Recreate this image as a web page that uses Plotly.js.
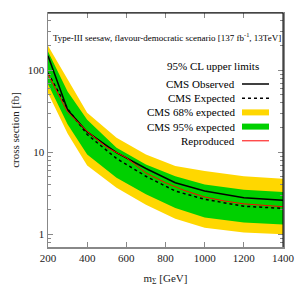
<!DOCTYPE html>
<html>
<head>
<meta charset="utf-8">
<script src="https://cdn.plot.ly/plotly-3.0.1.min.js"></script>
<style>html,body{margin:0;padding:0;background:#fff;}#chart{width:300px;height:300px;}</style>
</head>
<body>
<div id="chart"></div>
<script>
// CMS mass points [GeV]
const massCMS = [200, 300, 400, 550, 700, 850, 1000, 1200, 1400];
const observed = [150, 33, 17.7, 9.9, 6.35, 4.25, 3.37, 2.8, 2.6];
const expected = [93, 34, 16.5, 8.4, 5.1, 3.37, 2.67, 2.2, 2.07];
const band68Up = [200, 77, 30.3, 15, 9.4, 6.8, 5.9, 5.1, 4.75];
const band68Dn = [53, 17, 6.9, 3.7, 2.3, 1.55, 1.2, 1.05, 1.0];
const band95Up = [170, 55, 25, 11.4, 7.1, 5.1, 4.06, 3.5, 3.27];
const band95Dn = [68, 22, 9.4, 4.9, 3.07, 2.1, 1.6, 1.39, 1.32];
// reproduced curve
const massRep = [200, 300, 400, 500, 600, 700, 800, 900, 1000, 1100, 1200, 1300, 1400];
const reproduced = [90, 31, 18, 11.5, 8.6, 5.6, 4.25, 3.4, 2.85, 2.55, 2.35, 2.25, 2.17];

const xTicks = [200, 400, 600, 800, 1000, 1200, 1400];
const yTicks = [1, 10, 100];
const yMinor = [0.8, 0.9, 2, 3, 4, 5, 6, 7, 8, 9, 20, 30, 40, 50, 60, 70, 80, 90, 200, 300, 400];

const legendTitle = "95% CL upper limits";
const legendLabels = ["CMS Observed", "CMS Expected", "CMS 68% expected", "CMS 95% expected", "Reproduced"];
const chartTitle = "Type-III seesaw, flavour-democratic scenario [137 fb<sup>-1</sup>, 13TeV]";

const YEL = "#ffd700", GRN = "#00d000";
const FONT = "Liberation Serif, Times New Roman, serif";

function band(xs, up, dn) {
  return { x: xs.concat(xs.slice().reverse()), y: up.concat(dn.slice().reverse()) };
}
const b68 = band(massCMS, band68Up, band68Dn);
const b95 = band(massCMS, band95Up, band95Dn);

const traces = [
  { x: b68.x, y: b68.y, type: "scatter", mode: "lines", fill: "toself", fillcolor: YEL, line: { width: 0, color: YEL }, name: legendLabels[2], showlegend: false, hoverinfo: "skip" },
  { x: b95.x, y: b95.y, type: "scatter", mode: "lines", fill: "toself", fillcolor: GRN, line: { width: 0, color: GRN }, name: legendLabels[3], showlegend: false, hoverinfo: "skip" },
  { x: massCMS, y: expected, type: "scatter", mode: "lines", line: { color: "#000", width: 1.5, dash: "dot" }, name: legendLabels[1], showlegend: false },
  { x: massCMS, y: observed, type: "scatter", mode: "lines", line: { color: "#000", width: 1.5 }, name: legendLabels[0], showlegend: false },
  { x: massRep, y: reproduced, type: "scatter", mode: "lines", line: { color: "#ff0000", width: 1 }, name: legendLabels[4], showlegend: false }
];

// pixel -> paper helpers (plot area: x 48..283, y 13..247)
const PT = 13, PH = 234, PL = 48, PW = 235;
const py = (p) => 1 - (p - PT) / PH;
const px = (p) => (p - PL) / PW;

const annotations = [
  { xref: "paper", yref: "paper", x: px(213), y: py(66), text: legendTitle, showarrow: false, xanchor: "center", yanchor: "middle", font: { family: FONT, size: 11, color: "#000" } },
  { xref: "paper", yref: "paper", x: px(283), y: py(37), text: chartTitle, showarrow: false, xanchor: "right", yanchor: "middle", font: { family: FONT, size: 9, color: "#000" } }
];
const shapes = [];
const samples = [
  { type: "line", color: "#000", width: 1.5, dash: "solid" },
  { type: "line", color: "#000", width: 1.5, dash: "dot" },
  { type: "rect", color: YEL },
  { type: "rect", color: GRN },
  { type: "line", color: "#ff0000", width: 1, dash: "solid" }
];
legendLabels.forEach((lab, i) => {
  const yy = py(84 + i * 14.2);
  annotations.push({ xref: "paper", yref: "paper", x: px(237), y: yy, text: lab, showarrow: false, xanchor: "right", yanchor: "middle", font: { family: FONT, size: 11, color: "#000" } });
  const s = samples[i];
  const x0 = px(242), x1 = px(269);
  if (s.type === "line") {
    shapes.push({ type: "line", xref: "paper", yref: "paper", x0: x0, x1: x1, y0: yy, y1: yy, line: { color: s.color, width: s.width, dash: s.dash } });
  } else {
    const h = 6 / PH;
    shapes.push({ type: "rect", xref: "paper", yref: "paper", x0: x0, x1: x1, y0: yy - h / 2, y1: yy + h / 2, fillcolor: s.color, line: { width: 0 } });
  }
});
// black top and right border
shapes.push({ type: "line", xref: "paper", yref: "paper", x0: 0, x1: 1, y0: 1, y1: 1, line: { color: "#000", width: 1 } });
shapes.push({ type: "line", xref: "paper", yref: "paper", x0: 1, x1: 1, y0: 0, y1: 1, line: { color: "#000", width: 1 } });

const layout = {
  width: 300, height: 300,
  margin: { l: 48, r: 17, t: 13, b: 53 },
  paper_bgcolor: "#fff", plot_bgcolor: "#fff",
  font: { family: FONT, size: 11, color: "#000" },
  showlegend: false,
  xaxis: {
    range: [200, 1400], tickvals: xTicks, ticktext: xTicks.map(String),
    showgrid: false, zeroline: false, showline: true, linecolor: "#888", linewidth: 1.5, mirror: "ticks",
    ticks: "inside", ticklen: 5, tickcolor: "#888", tickwidth: 1,
    tickfont: { family: FONT, size: 11, color: "#222" },
    title: { text: "m<sub>Σ</sub> [GeV]", font: { family: FONT, size: 11, color: "#222" }, standoff: 11 }
  },
  yaxis: {
    type: "log", range: [Math.log10(0.7), Math.log10(500)], tickvals: yTicks, ticktext: yTicks.map(String),
    showgrid: false, zeroline: false, showline: true, linecolor: "#888", linewidth: 1.5, mirror: "ticks",
    ticks: "inside", ticklen: 5, tickcolor: "#888", tickwidth: 1,
    minor: { tickmode: "array", tickvals: yMinor, ticks: "inside", ticklen: 3, tickcolor: "#888", showgrid: false },
    tickfont: { family: FONT, size: 11, color: "#222" },
    title: { text: "cross section [fb]", font: { family: FONT, size: 11, color: "#222" }, standoff: 6 }
  },
  annotations: annotations,
  shapes: shapes
};

Plotly.newPlot("chart", traces, layout, { staticPlot: true, displayModeBar: false });
</script>
</body>
</html>
